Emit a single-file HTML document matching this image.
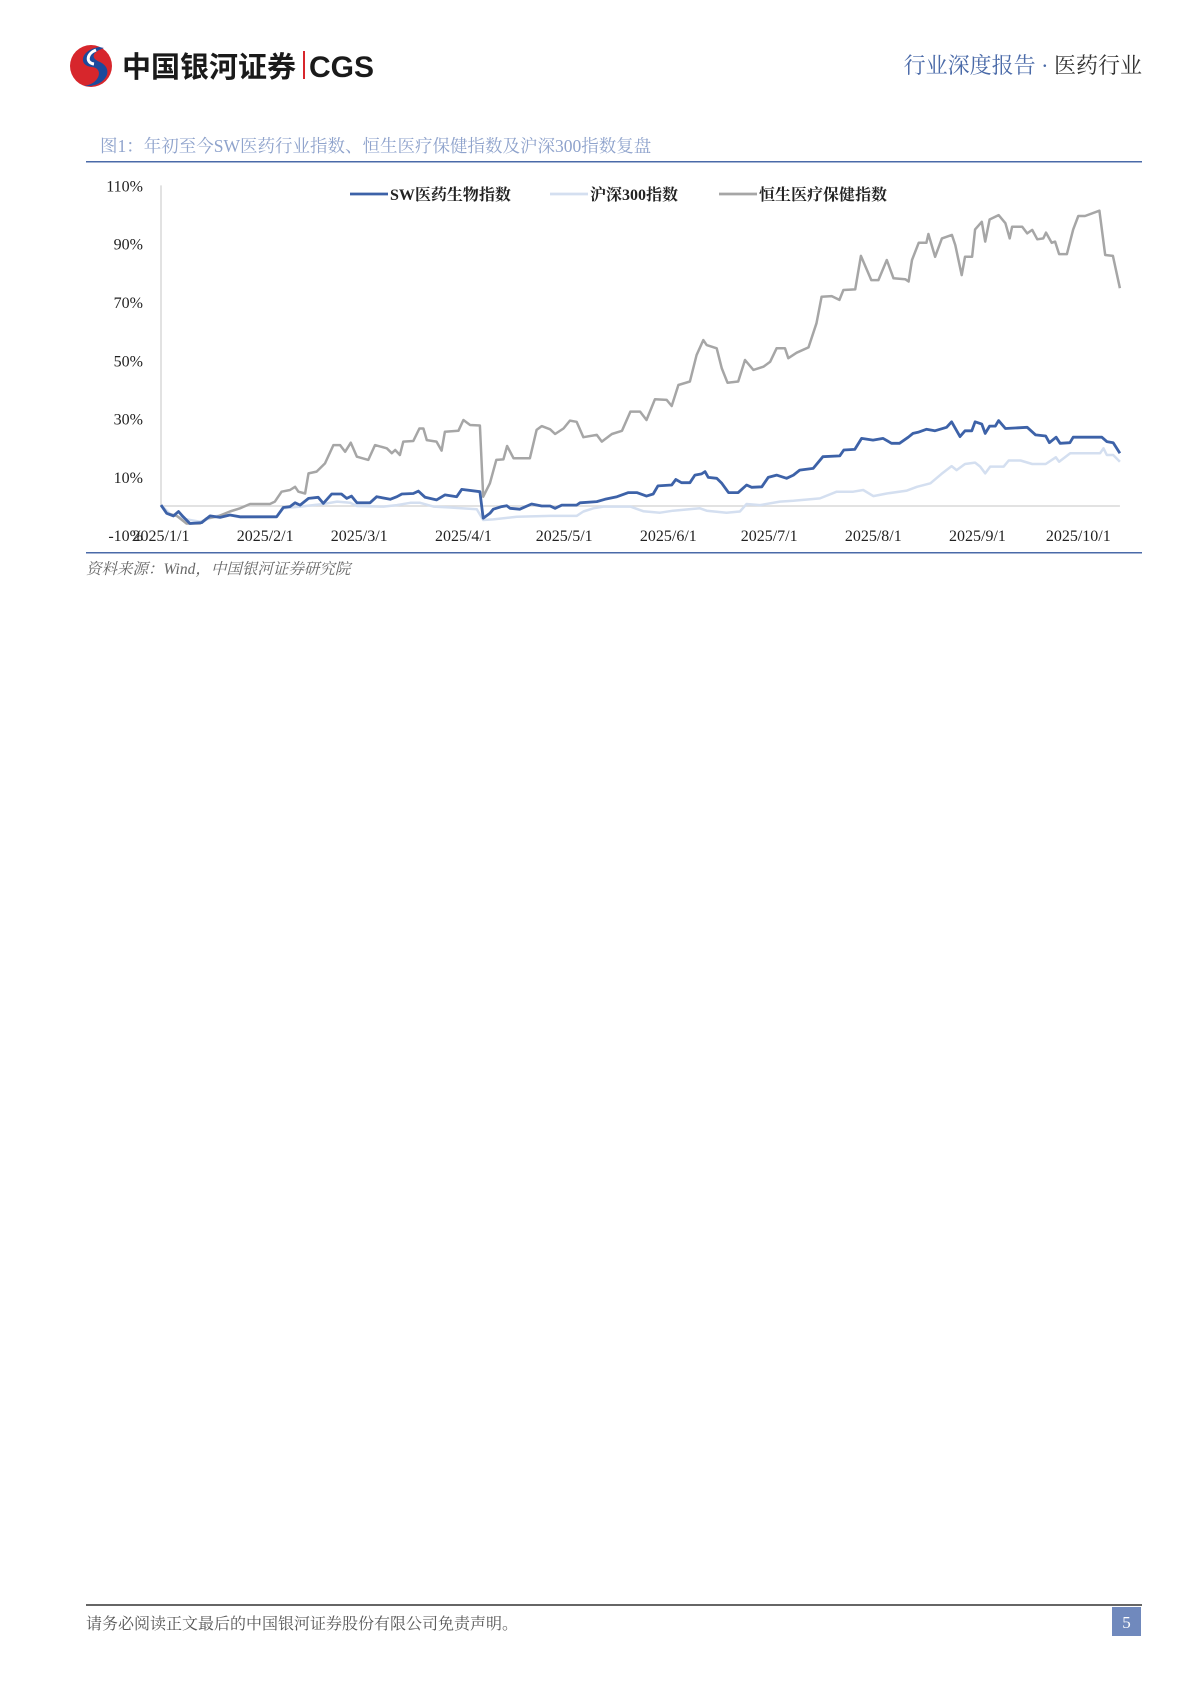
<!DOCTYPE html>
<html><head><meta charset="utf-8">
<style>
html,body{margin:0;padding:0;background:#fff;}
svg{display:block;}
text{font-family:"Liberation Serif","Noto Serif CJK SC",serif;}
.sans{font-family:"Liberation Sans","Noto Sans CJK SC",sans-serif;}
</style></head>
<body>
<svg id="page" width="1200" height="1698" viewBox="0 0 1200 1698" xmlns="http://www.w3.org/2000/svg">
  <g>
    <circle cx="91" cy="66" r="21" fill="#d7262c"/>
    <path d="M99 47 C80 50 78 66 92 67 C104 68 100 84 84 86 C104 88 116 70 100 62 C90 58 92 52 104 48 Z" fill="#1b4a9c"/>
    <path d="M96 50 C86 54 86 63 94 64" stroke="#fff" stroke-width="3" fill="none"/>
  </g>
  <text x="122" y="77" class="sans" font-size="29" font-weight="bold" fill="#1a1a1a">中国银河证券</text>
  <rect x="303" y="51" width="2" height="28" fill="#d7262c"/>
  <text x="309" y="77" class="sans" font-size="30" font-weight="bold" fill="#1a1a1a">CGS</text>
  <text x="1142" y="73" text-anchor="end" font-size="22"><tspan fill="#4a6aa8">行业深度报告 · </tspan><tspan fill="#333">医药行业</tspan></text>

  <text x="100" y="152" font-size="17.5" fill="#8fa3cc">图1：年初至今SW医药行业指数、恒生医疗保健指数及沪深300指数复盘</text>
  <rect x="86" y="161" width="1056" height="1.5" fill="#4a6aa8"/>
  <rect x="86" y="552" width="1056" height="1.5" fill="#4a6aa8"/>
  <text x="86" y="574" font-size="15.5" font-style="italic" fill="#666">资料来源：Wind，中国银河证券研究院</text>

  <g id="chart"></g>

  <rect x="86" y="1604" width="1056" height="2" fill="#666"/>
  <text x="86" y="1629" font-size="16" fill="#555">请务必阅读正文最后的中国银河证券股份有限公司免责声明。</text>
  <rect x="1112" y="1607" width="29" height="29" fill="#7089bd"/>
  <text x="1126.5" y="1628" text-anchor="middle" font-size="17" fill="#fff">5</text>
</svg>
<script>
const yTicks = [-10, 10, 30, 50, 70, 90, 110];
const xTickLabels = ["2025/1/1","2025/2/1","2025/3/1","2025/4/1","2025/5/1","2025/6/1","2025/7/1","2025/8/1","2025/9/1","2025/10/1"];
const xTickDays = [0,31,59,90,120,151,181,212,243,273];
const seriesNames = ["SW医药生物指数","沪深300指数","恒生医疗保健指数"];

const hkDays = [0,1.7,4.7,7.6,11.6,13.6,16.6,20.5,23.5,26.5,32.4,33.9,35.9,38.4,39.9,40.9,42.9,43.9,46.3,48.8,51.3,53.3,54.8,56.5,58.3,61.7,63.7,67.2,68.7,69.7,71.1,72.1,75.1,76.9,78.1,79.1,82,83.5,84.5,88.5,90,92,94.9,95.9,97.9,99.8,101.9,103,104.9,109.8,111.8,113.3,115.8,117.3,119.8,121.7,123.7,125.7,129.7,131.2,134.2,137.2,139.7,142.6,144.5,147,150.5,152,154,157.4,159.4,161.4,162.4,165.4,166.9,168.6,171.8,173.8,176.3,179.3,181.3,183.2,185.7,186.7,189.2,192.7,195.1,196.6,199.6,201.9,203.1,206.6,208.3,211.4,213.5,216,218,221.5,222.5,223.5,225.5,227.8,228.4,230.4,232.4,235.4,236.4,238.3,239.3,241.4,242.3,244.3,245.3,246.6,249.3,251.3,252.6,253.3,256.3,257.8,259.3,260.8,262.6,263.4,265.1,266.1,267.3,269.6,271.5,273,275,279.3,281,283.3,285.4];
const hkValues = [0.3,-2.5,-3.4,-6,-6,-4.2,-3.7,-1.9,-0.8,0.7,0.7,1.5,4.9,5.5,6.6,4.9,4.3,11.2,11.8,14.6,20.9,20.9,18.6,21.7,16.9,15.8,20.9,19.8,18.1,19.2,17.5,22.1,22.3,26.6,26.6,22.6,22.1,19,25.5,25.8,29.5,27.8,27.6,3.2,7.8,15.8,16,20.6,16.4,16.4,26.1,27.4,26.3,24.7,26.6,29.3,28.9,23.6,24.4,22.1,24.7,25.8,32.4,32.4,29.5,36.6,36.4,34.3,41.5,42.7,51.8,56.9,55.2,54.1,47.2,42.3,42.7,50.1,46.7,47.8,49.5,54.1,54.1,50.7,52.6,54.4,62.7,71.8,72,70.7,74.1,74.3,85.8,77.5,77.5,84.4,78.1,77.8,77,84.4,90.3,90.3,93.3,85.5,91.8,93,89.5,79.2,85.5,85.5,94.9,97.5,90.7,98.3,99.8,97,91.8,95.8,95.8,93.5,94.7,91.5,91.8,93.8,90.3,90.7,86.4,86.4,94.9,99.5,99.5,101.3,86.1,85.8,74.7];

const swDays = [0,1.7,3.7,5.2,6.6,8.6,12.1,14.6,17.6,20.5,23.5,34.4,36.4,38.4,39.9,41.4,43.9,46.8,48.3,50.8,53.7,55.3,56.7,58.3,62.2,64.2,68.2,70.2,71.7,75.1,76.6,78.6,82,84.5,88,89.5,94.9,95.9,97.9,98.9,101.4,102.9,103.9,106.8,110.3,113.3,115.8,117.3,119.3,123.7,124.7,129.7,132.1,135.7,139.1,141.6,144.5,146.5,147.9,152,153.2,154.9,157.4,158.9,160.9,161.9,162.9,165.4,166.9,168.9,171.8,174.3,175.8,178.8,180.7,183.2,186.2,188.2,190.1,194.1,197,202,203.2,206.5,208.5,211.9,214.9,217.4,219.8,222.4,223.8,225.3,227.8,230.3,233.8,235.3,237.8,239.3,241.3,242.3,244.3,245.3,246.6,248.3,249.3,251.3,257.8,260.3,263.3,264.4,266.4,267.6,270.5,271.5,280,281.5,283.4,285.4];
const swValues = [0.3,-2.5,-3.4,-1.9,-3.7,-6,-5.7,-3.4,-3.9,-3.1,-3.7,-3.7,-0.5,-0.2,1.1,0.3,2.6,3,0.9,4.1,4.1,2.6,3.4,1.1,1.1,3.2,2.3,3.2,4.1,4.3,5.1,3,2.1,3.8,3.2,5.7,4.9,-4.2,-2.5,-1.1,-0.2,0.1,-0.8,-1.1,0.7,0,0,-0.8,0.3,0.3,1.1,1.5,2.3,3.2,4.6,4.6,3.4,4.1,6.9,7.2,9.1,8,8,10.6,11,11.8,9.8,9.5,7.8,4.6,4.6,7.2,6.4,6.6,9.8,10.6,9.5,10.6,12.3,12.9,16.9,17.2,19.2,19.4,23.2,22.6,23.2,21.5,21.5,23.6,24.9,25.3,26.3,25.8,27,28.9,23.8,25.8,25.8,28.9,28.1,24.9,27.4,27.4,29.3,26.6,27,24.4,24,21.7,23.6,21.5,21.7,23.6,23.6,22.1,21.7,18.1];

const hsDays = [0,2.7,7.6,11.6,16.6,20.5,23.5,34.4,36.4,41.4,48.3,52.4,56.3,58.3,66.2,70.2,74.2,77.1,81.1,86,94,95.9,98.9,105.9,115.8,123.7,125.7,128.7,131.7,139.7,143.5,148.5,152.4,160.4,162.4,168.3,172.3,174.3,178.3,184.2,188.2,196.1,201.1,206,209,212,216,222,225,229,232.3,235.3,236.8,239.3,242.3,243.8,245.3,246.8,250.8,252.3,255.8,259.3,263.3,266.3,267.3,270.6,279.5,280.5,281.5,283.4,285.4];
const hsValues = [0.3,-2.7,-4.6,-5.4,-3.4,-3.1,-3.9,-3.7,-0.8,-0.2,0.7,1.5,1.1,0,-0.2,0.3,1.1,1.1,-0.2,-0.5,-1.1,-4.8,-4.6,-3.7,-3.4,-3.4,-1.9,-0.8,-0.2,-0.2,-1.8,-2.3,-1.6,-0.8,-1.6,-2.3,-1.9,0.7,0.3,1.5,1.8,2.6,4.9,4.9,5.5,3.4,4.3,5.3,6.6,7.8,11,13.7,12.3,14.4,14.9,13.5,11.2,13.5,13.5,15.6,15.6,14.4,14.4,16.7,15.2,18.1,18.1,19.8,17.5,17.5,15.2];

const NS = "http://www.w3.org/2000/svg";
const chart = document.getElementById("chart");
const X0 = 161, PXPERDAY = 3.36, Y0 = 506, PXPERPCT = 2.915;
function xScale(d){ return X0 + d * PXPERDAY; }
function yScale(v){ return Y0 - v * PXPERPCT; }
function mk(tag, attrs){ const e = document.createElementNS(NS, tag); for (const k in attrs) e.setAttribute(k, attrs[k]); return e; }

const yAxis = mk("line", {x1:X0, y1:yScale(110), x2:X0, y2:Y0, stroke:"#d9d9d9", "stroke-width":1.5});


chart.appendChild(yAxis);
const zero = mk("line", {x1:X0, y1:Y0, x2:xScale(285.4), y2:Y0, stroke:"#d9d9d9", "stroke-width":1.5});


chart.appendChild(zero);

yTicks.forEach(v => {
  const t = mk("text", {x:143, y:yScale(v) + 6, "text-anchor":"end", "font-size":16, fill:"#222"});
  t.textContent = v + "%";
  
  
  chart.appendChild(t);
});
xTickLabels.forEach((lab, i) => {
  const t = mk("text", {x:xScale(xTickDays[i]), y:541, "text-anchor":"middle", "font-size":16, fill:"#222"});
  t.textContent = lab;
  
  
  chart.appendChild(t);
});

function drawLine(days, vals, color, width, name){
  const pts = days.map((d,i) => xScale(d).toFixed(1) + "," + yScale(vals[i]).toFixed(1)).join(" ");
  const p = mk("polyline", {points:pts, fill:"none", stroke:color, "stroke-width":width, "stroke-linejoin":"round"});
  
  
  chart.appendChild(p);
}
drawLine(hsDays, hsValues, "#d4dff0", 2.5, "csi300-line");
drawLine(hkDays, hkValues, "#a6a6a6", 2.5, "hang-seng-healthcare-line");
drawLine(swDays, swValues, "#3d62a8", 2.8, "sw-pharma-line");

const legendColors = ["#3d62a8","#d4dff0","#a6a6a6"];
const legendX = [350, 550, 719];
seriesNames.forEach((n, i) => {
  const g = mk("g", {});
  
  
  g.appendChild(mk("line", {x1:legendX[i], y1:194, x2:legendX[i] + 38, y2:194, stroke:legendColors[i], "stroke-width":2.8}));
  const t = mk("text", {x:legendX[i] + 40, y:200, "font-size":16, fill:"#222", "font-weight":"bold"});
  t.textContent = n;
  g.appendChild(t);
  chart.appendChild(g);
});
</script>
</body></html>
